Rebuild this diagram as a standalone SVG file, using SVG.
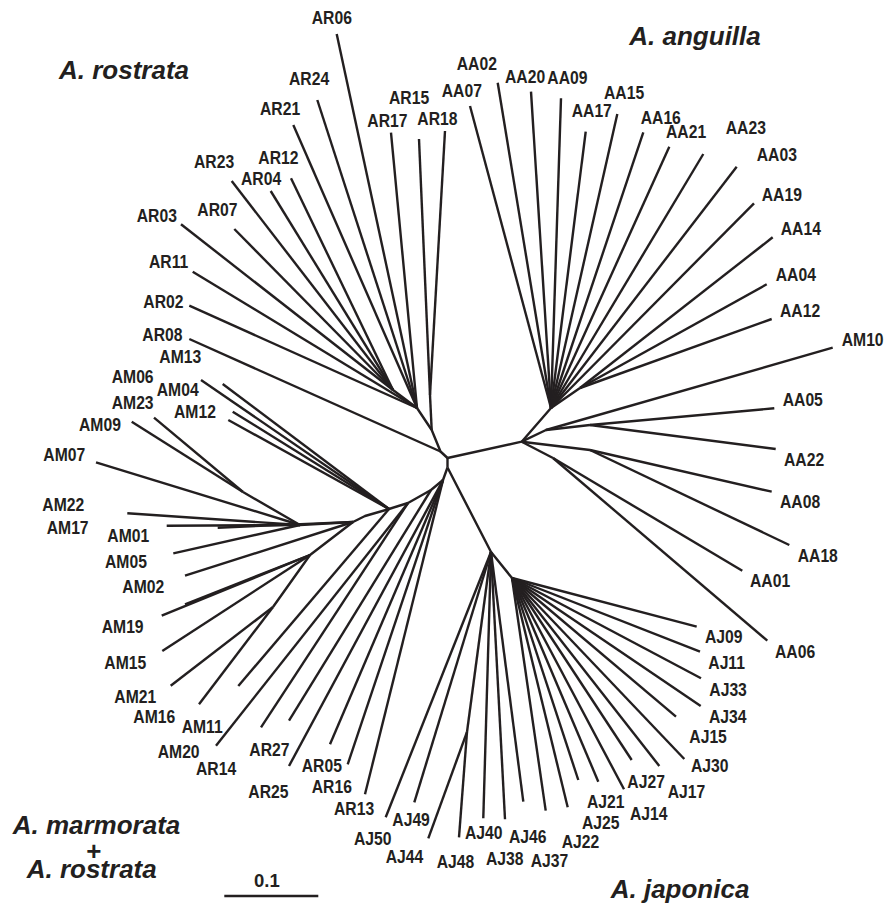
<svg xmlns="http://www.w3.org/2000/svg" width="886" height="904" viewBox="0 0 886 904">
<style>
.e{stroke:#231f20;stroke-width:2.4;fill:none;stroke-linecap:butt;stroke-linejoin:round}
.t{font-family:"Liberation Sans",Arial,sans-serif;font-weight:bold;font-size:18.5px;fill:#231f20;transform-box:fill-box;transform-origin:0% 100%;transform:scaleX(0.85)}
.sp{font-family:"Liberation Sans",Arial,sans-serif;font-weight:bold;font-style:italic;font-size:26px;fill:#231f20}
.sc{font-family:"Liberation Sans",Arial,sans-serif;font-weight:bold;font-size:18.5px;fill:#231f20}
</style>
<rect width="886" height="904" fill="#ffffff"/>
<g id="connectors">
<!-- internal -->
<path class="e" d="M447.5 458 L447.5 467.5"/>
<path class="e" d="M447.5 458 L440.5 451.5 L431.7 430 L417 408 L393 390"/>
<path class="e" d="M431.7 430 L430 395"/>
<path class="e" d="M447.5 458 L521.7 441.7 L551 408 L580 388"/>
<path class="e" d="M521.7 441.7 L546 430 L590 425"/>
<path class="e" d="M521.7 441.7 L590 450"/>
<path class="e" d="M521.7 441.7 L553 458"/>
<path class="e" d="M447.5 467.5 L491 552 L512 578"/>
<path class="e" d="M491 552 L467 732"/>
<path class="e" d="M447.5 467.5 L443 480 L431 490 L408 503 L389 509 L365 516 L353 522 L300 525 L243 492"/>
<path class="e" d="M353 522 L310 555 L273 607"/>
<!-- AR -->
<path class="e" d="M189.3 339 L440.5 451.5"/>
<path class="e" d="M189.3 305.7 L417 408"/>
<path class="e" d="M192.7 271.7 L417 408"/>
<path class="e" d="M181 224.3 L393 390"/>
<path class="e" d="M234.3 229 L393 390"/>
<path class="e" d="M231.7 181 L393 390"/>
<path class="e" d="M270.7 191 L393 390"/>
<path class="e" d="M291 178.3 L393 390"/>
<path class="e" d="M293.3 125 L417 408"/>
<path class="e" d="M317.3 100 L417 408"/>
<path class="e" d="M336.7 34 L417 408"/>
<path class="e" d="M391 132.7 L417 408"/>
<path class="e" d="M419 139 L430 395"/>
<path class="e" d="M445 131 L430 395"/>
<!-- AA -->
<path class="e" d="M470 106 L551 408"/>
<path class="e" d="M497.7 82.7 L551 408"/>
<path class="e" d="M531 91.7 L551 408"/>
<path class="e" d="M561 98.3 L551 408"/>
<path class="e" d="M585.7 131.7 L551 408"/>
<path class="e" d="M617.3 114 L551 408"/>
<path class="e" d="M643.3 132.3 L551 408"/>
<path class="e" d="M669.3 146.7 L551 408"/>
<path class="e" d="M703.3 154 L551 408"/>
<path class="e" d="M736.7 166.7 L551 408"/>
<path class="e" d="M754 203.3 L551 408"/>
<path class="e" d="M772.7 237.3 L580 388"/>
<path class="e" d="M766.7 284.3 L580 388"/>
<path class="e" d="M771.7 319 L580 388"/>
<path class="e" d="M832.7 347.7 L546 430"/>
<path class="e" d="M774.3 408.3 L590 425"/>
<path class="e" d="M775.7 449 L590 425"/>
<path class="e" d="M771.7 491.7 L590 450"/>
<path class="e" d="M789.3 545 L590 450"/>
<path class="e" d="M742.3 570.7 L553 458"/>
<path class="e" d="M767.3 640.7 L553 458"/>
<!-- AJ -->
<path class="e" d="M385.7 817.3 L491 552"/>
<path class="e" d="M414.3 802.3 L491 552"/>
<path class="e" d="M428.3 838.3 L467 732"/>
<path class="e" d="M459 837.3 L467 732"/>
<path class="e" d="M483.3 818.3 L491 552"/>
<path class="e" d="M505 819.3 L491 552"/>
<path class="e" d="M523.3 801.7 L491 552"/>
<path class="e" d="M545.7 810.7 L512 578"/>
<path class="e" d="M567.7 807.3 L512 578"/>
<path class="e" d="M578.3 780 L512 578"/>
<path class="e" d="M598.3 781.7 L512 578"/>
<path class="e" d="M624 789.3 L512 578"/>
<path class="e" d="M631.7 760 L512 578"/>
<path class="e" d="M659.3 766 L512 578"/>
<path class="e" d="M684.3 759 L512 578"/>
<path class="e" d="M676 716.7 L512 578"/>
<path class="e" d="M700.7 706 L512 578"/>
<path class="e" d="M701 678.3 L512 578"/>
<path class="e" d="M700 651.7 L512 578"/>
<path class="e" d="M696.7 626.7 L512 578"/>
<!-- lower AR -->
<path class="e" d="M365 794.3 L443 480"/>
<path class="e" d="M347.7 764.3 L443 480"/>
<path class="e" d="M330 744.3 L443 480"/>
<path class="e" d="M289 766 L443 480"/>
<path class="e" d="M289 720.7 L431 490"/>
<path class="e" d="M261 727.3 L408 503"/>
<!-- AM -->
<path class="e" d="M216 745.7 L408 503"/>
<path class="e" d="M238.3 686 L389 509"/>
<path class="e" d="M222.7 384 L389 509"/>
<path class="e" d="M201 380 L389 509"/>
<path class="e" d="M232.7 411.7 L389 509"/>
<path class="e" d="M228.3 420 L389 509"/>
<path class="e" d="M131.7 421.7 L243 492"/>
<path class="e" d="M154 417.7 L243 492"/>
<path class="e" d="M96 462.3 L300 525"/>
<path class="e" d="M127.3 513.3 L300 525"/>
<path class="e" d="M166.7 525.7 L300 525"/>
<path class="e" d="M217.7 527.7 L353 522"/>
<path class="e" d="M173.3 553.3 L300 525"/>
<path class="e" d="M185 575.7 L353 522"/>
<path class="e" d="M185 604.3 L310 555"/>
<path class="e" d="M161.7 615.7 L310 555"/>
<path class="e" d="M162.3 651 L310 555"/>
<path class="e" d="M170.7 685.7 L273 607"/>
<path class="e" d="M199 704.3 L273 607"/>
<!-- scale bar -->
<path class="e" d="M224.3 896 L318.3 896"/>
</g>
<g id="AR06"><text class="t" x="311.7" y="24">AR06</text></g>
<g id="AR24"><text class="t" x="289" y="85">AR24</text></g>
<g id="AR21"><text class="t" x="260" y="115">AR21</text></g>
<g id="AR15"><text class="t" x="389" y="104">AR15</text></g>
<g id="AR17"><text class="t" x="367.3" y="127.3">AR17</text></g>
<g id="AR18"><text class="t" x="417.3" y="125">AR18</text></g>
<g id="AR23"><text class="t" x="194" y="167.7">AR23</text></g>
<g id="AR12"><text class="t" x="258.3" y="164">AR12</text></g>
<g id="AR04"><text class="t" x="241" y="185">AR04</text></g>
<g id="AR03"><text class="t" x="136.7" y="221.7">AR03</text></g>
<g id="AR07"><text class="t" x="197.3" y="216">AR07</text></g>
<g id="AR11"><text class="t" x="149" y="268.3">AR11</text></g>
<g id="AR02"><text class="t" x="143.3" y="308.3">AR02</text></g>
<g id="AR08"><text class="t" x="142.3" y="340.7">AR08</text></g>
<g id="AM13"><text class="t" x="159.3" y="363.3">AM13</text></g>
<g id="AM06"><text class="t" x="111.7" y="382.7">AM06</text></g>
<g id="AM04"><text class="t" x="156.7" y="395.7">AM04</text></g>
<g id="AM23"><text class="t" x="111.7" y="409.3">AM23</text></g>
<g id="AM12"><text class="t" x="174" y="417.7">AM12</text></g>
<g id="AM09"><text class="t" x="79" y="431">AM09</text></g>
<g id="AM07"><text class="t" x="43.3" y="460.7">AM07</text></g>
<g id="AM22"><text class="t" x="42.3" y="510.7">AM22</text></g>
<g id="AM17"><text class="t" x="46.7" y="534">AM17</text></g>
<g id="AM01"><text class="t" x="107.3" y="541.7">AM01</text></g>
<g id="AM05"><text class="t" x="105" y="568.3">AM05</text></g>
<g id="AM02"><text class="t" x="122.3" y="592.7">AM02</text></g>
<g id="AM19"><text class="t" x="101.7" y="633.3">AM19</text></g>
<g id="AM15"><text class="t" x="104.3" y="669.3">AM15</text></g>
<g id="AM21"><text class="t" x="114.3" y="702.7">AM21</text></g>
<g id="AM16"><text class="t" x="133.3" y="722.7">AM16</text></g>
<g id="AM11"><text class="t" x="181.7" y="733.3">AM11</text></g>
<g id="AM20"><text class="t" x="157.7" y="758.3">AM20</text></g>
<g id="AR14"><text class="t" x="196" y="775">AR14</text></g>
<g id="AR27"><text class="t" x="249.3" y="756">AR27</text></g>
<g id="AR25"><text class="t" x="248.3" y="798.3">AR25</text></g>
<g id="AR05"><text class="t" x="301.7" y="771.7">AR05</text></g>
<g id="AR16"><text class="t" x="311.7" y="792.7">AR16</text></g>
<g id="AR13"><text class="t" x="334" y="815">AR13</text></g>
<g id="AJ50"><text class="t" x="354" y="845">AJ50</text></g>
<g id="AJ49"><text class="t" x="392.3" y="825.7">AJ49</text></g>
<g id="AJ44"><text class="t" x="385.7" y="862.7">AJ44</text></g>
<g id="AJ48"><text class="t" x="436.7" y="868.3">AJ48</text></g>
<g id="AJ40"><text class="t" x="465" y="839.3">AJ40</text></g>
<g id="AJ38"><text class="t" x="486" y="865">AJ38</text></g>
<g id="AJ46"><text class="t" x="509" y="842.7">AJ46</text></g>
<g id="AJ37"><text class="t" x="530.7" y="866.7">AJ37</text></g>
<g id="AJ22"><text class="t" x="561.7" y="848.3">AJ22</text></g>
<g id="AJ25"><text class="t" x="582" y="829.3">AJ25</text></g>
<g id="AJ21"><text class="t" x="587" y="808.3">AJ21</text></g>
<g id="AJ14"><text class="t" x="630" y="820">AJ14</text></g>
<g id="AJ27"><text class="t" x="627.3" y="787.7">AJ27</text></g>
<g id="AJ17"><text class="t" x="667.7" y="798.3">AJ17</text></g>
<g id="AJ30"><text class="t" x="691" y="772.3">AJ30</text></g>
<g id="AJ15"><text class="t" x="689.3" y="743.3">AJ15</text></g>
<g id="AJ34"><text class="t" x="709" y="723.3">AJ34</text></g>
<g id="AJ33"><text class="t" x="709.3" y="695.7">AJ33</text></g>
<g id="AJ11"><text class="t" x="708.3" y="669">AJ11</text></g>
<g id="AJ09"><text class="t" x="705" y="643.3">AJ09</text></g>
<g id="AA06"><text class="t" x="775" y="658.3">AA06</text></g>
<g id="AA01"><text class="t" x="750" y="587.3">AA01</text></g>
<g id="AA18"><text class="t" x="797.7" y="562.3">AA18</text></g>
<g id="AA08"><text class="t" x="780" y="508.3">AA08</text></g>
<g id="AA22"><text class="t" x="784" y="465.7">AA22</text></g>
<g id="AA05"><text class="t" x="782.7" y="405.7">AA05</text></g>
<g id="AM10"><text class="t" x="841.7" y="345.7">AM10</text></g>
<g id="AA12"><text class="t" x="780" y="316.7">AA12</text></g>
<g id="AA04"><text class="t" x="775.7" y="280.7">AA04</text></g>
<g id="AA14"><text class="t" x="780.7" y="235">AA14</text></g>
<g id="AA19"><text class="t" x="761.7" y="200.7">AA19</text></g>
<g id="AA03"><text class="t" x="756.7" y="161">AA03</text></g>
<g id="AA23"><text class="t" x="725.7" y="134.3">AA23</text></g>
<g id="AA21"><text class="t" x="666" y="138.3">AA21</text></g>
<g id="AA16"><text class="t" x="640.7" y="124">AA16</text></g>
<g id="AA15"><text class="t" x="604" y="99.3">AA15</text></g>
<g id="AA17"><text class="t" x="571.7" y="116.7">AA17</text></g>
<g id="AA09"><text class="t" x="547.3" y="84">AA09</text></g>
<g id="AA20"><text class="t" x="505" y="82.7">AA20</text></g>
<g id="AA02"><text class="t" x="456.7" y="70">AA02</text></g>
<g id="AA07"><text class="t" x="441.7" y="96.7">AA07</text></g>
<g id="species">
<text class="sp" x="59" y="79">A. rostrata</text>
<text class="sp" x="629.3" y="45">A. anguilla</text>
<text class="sp" x="12.7" y="834">A. marmorata</text>
<text class="sp" x="93.3" y="859.5" text-anchor="middle">+</text>
<text class="sp" x="26.7" y="877.5">A. rostrata</text>
<text class="sp" x="610.7" y="897.7">A. japonica</text>
</g>
<g id="scale"><text class="sc" x="254" y="886.7">0.1</text></g>
</svg>
